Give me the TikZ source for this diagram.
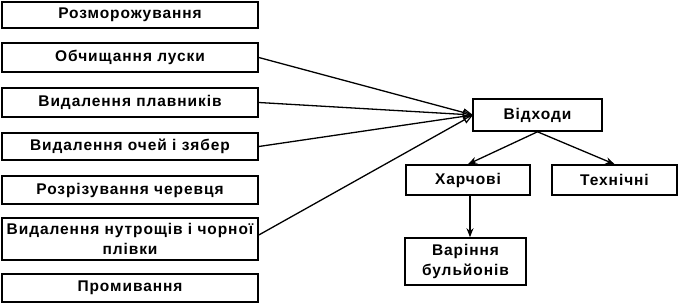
\documentclass[tikz,border=0pt]{standalone}
\usepackage{fontspec}
\setmainfont{Liberation Sans}[LetterSpace=6]
\usetikzlibrary{arrows.meta}
\begin{document}
\begin{tikzpicture}[x=1pt,y=-1pt,
  box/.style={draw=black,line width=1.6pt,rectangle,inner sep=0pt,align=center,
    font=\fontsize{15.5}{20}\selectfont\bfseries},
  conn/.style={line width=1.3pt},
  open/.style={conn,-{Triangle[open,length=10pt,width=8pt,line width=1.2pt]}},
  solid/.style={conn,-{Stealth[length=9pt,width=7pt]}}]
\useasboundingbox (0,0) rectangle (680,304);
\node[box,minimum width=256pt,minimum height=26pt] (a1) at (130,15) {Розморожування};
\node[box,minimum width=256pt,minimum height=29pt] (a2) at (130,57.5) {Обчищання луски};
\node[box,minimum width=256pt,minimum height=29pt] (a3) at (130,102.5) {Видалення плавників};
\node[box,minimum width=256pt,minimum height=27pt] (a4) at (130,146.5) {Видалення очей і зябер};
\node[box,minimum width=256pt,minimum height=28pt] (a5) at (130,190) {Розрізування черевця};
\node[box,minimum width=256pt,minimum height=42pt] (a6) at (130,239) {Видалення нутрощів і чорної\\плівки};
\node[box,minimum width=256pt,minimum height=28pt] (a7) at (130,288) {Промивання};
\node[box,minimum width=129pt,minimum height=32pt] (w) at (537.5,115) {Відходи};
\node[box,minimum width=124pt,minimum height=30pt] (h) at (468,180) {Харчові};
\node[box,minimum width=125pt,minimum height=30pt] (t) at (614.5,180) {Технічні};
\node[box,minimum width=121pt,minimum height=47pt] (v) at (465.5,261.5) {Варіння\\бульйонів};
\coordinate (wl) at (473,115);
\draw[open] (a2.east) -- (wl);
\draw[open] (a3.east) -- (wl);
\draw[open] (a4.east) -- (wl);
\draw[open] (a6.east |- 0,235) -- (wl);
\draw[solid] (w.south) -- (h.north);
\draw[solid] (w.south) -- (t.north);
\draw[solid] (h.south -| 470,0) -- (v.north -| 470,0);
\end{tikzpicture}
\end{document}
